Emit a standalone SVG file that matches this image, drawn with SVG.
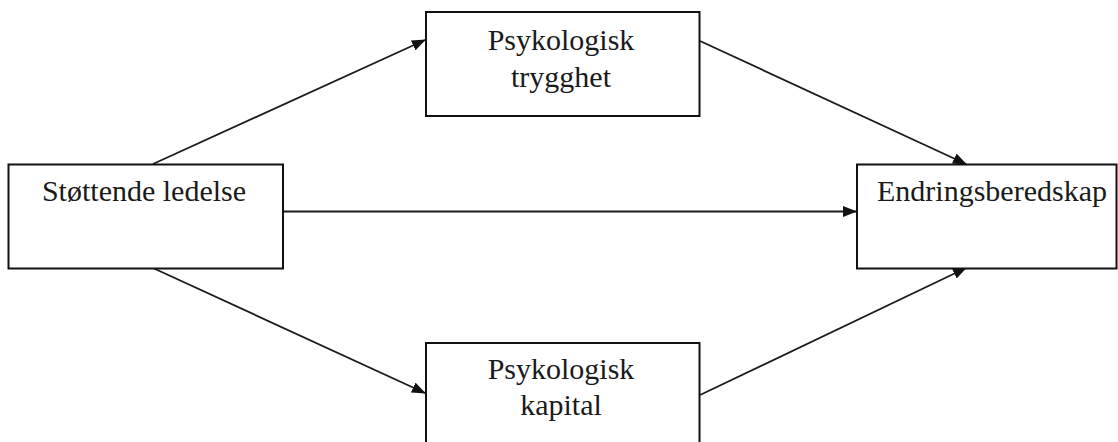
<svg xmlns="http://www.w3.org/2000/svg" width="1118" height="442" viewBox="0 0 1118 442">
<style>
.box{fill:#fff;stroke:#111;stroke-width:2}
.lbl{font-family:"Liberation Serif","Times New Roman",serif;font-size:30px;fill:#1a1a1a;text-anchor:middle}
.conn{stroke:#1a1a1a;stroke-width:1.8;fill:none;marker-end:url(#arr)}
</style>
<defs>
<marker id="arr" markerUnits="userSpaceOnUse" markerWidth="14" markerHeight="11" refX="13" refY="5.5" orient="auto">
<path d="M0,0 L14,5.5 L0,11 z" fill="#111"/>
</marker>
</defs>
<rect width="1118" height="442" fill="#fff"/>
<g id="connectors">
<line class="conn" x1="153" y1="164" x2="425" y2="40"/>
<line class="conn" x1="700" y1="41" x2="966" y2="164"/>
<line class="conn" x1="283" y1="211.5" x2="856" y2="211.5"/>
<line class="conn" x1="153" y1="268" x2="425" y2="393"/>
<line class="conn" x1="700" y1="395" x2="966" y2="268"/>
</g>
<g id="node-stottende">
<rect class="box" x="8.5" y="164.5" width="274.5" height="104"/>
<text class="lbl" x="144" y="200.5">Støttende ledelse</text>
</g>
<g id="node-trygghet">
<rect class="box" x="426" y="12" width="273.5" height="104"/>
<text class="lbl" x="561" y="50">Psykologisk</text>
<text class="lbl" x="561" y="87">trygghet</text>
</g>
<g id="node-endring">
<rect class="box" x="857" y="164.5" width="259.5" height="104"/>
<text class="lbl" x="992" y="200.5">Endringsberedskap</text>
</g>
<g id="node-kapital">
<rect class="box" x="426" y="343" width="273.5" height="104"/>
<text class="lbl" x="561" y="379">Psykologisk</text>
<text class="lbl" x="561" y="415">kapital</text>
</g>
</svg>
